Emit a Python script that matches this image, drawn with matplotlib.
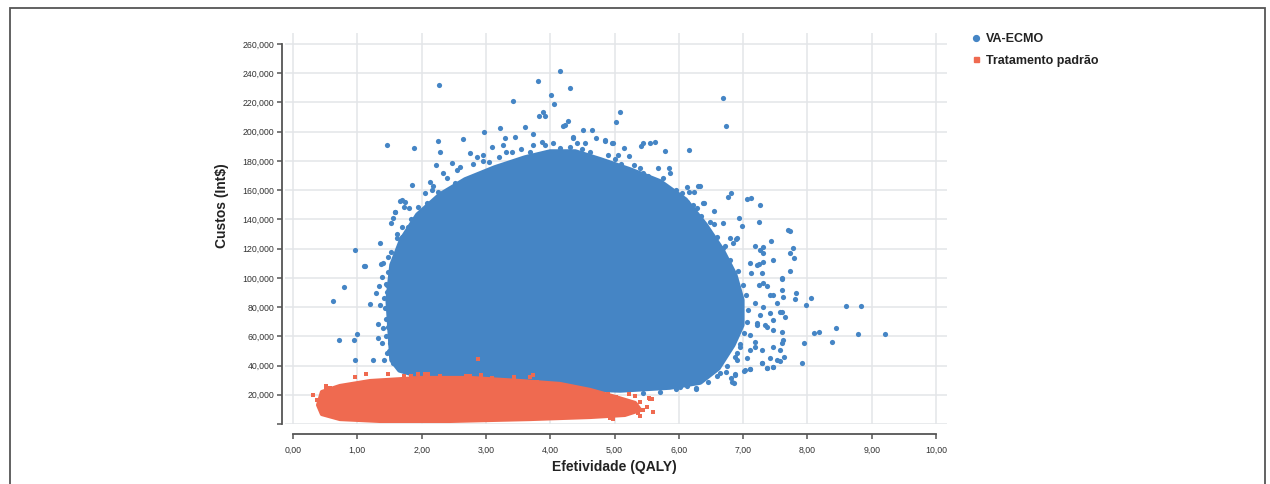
import matplotlib
matplotlib.use("Agg")
import matplotlib.pyplot as plt
from matplotlib import font_manager
from matplotlib.lines import Line2D
from matplotlib.patches import Rectangle

# ---------------- data ----------------
x_ticks = [0, 1, 2, 3, 4, 5, 6, 7, 8, 9, 10]
x_tick_labels = ["0,00", "1,00", "2,00", "3,00", "4,00", "5,00",
                 "6,00", "7,00", "8,00", "9,00", "10,00"]
y_ticks = [0, 20000, 40000, 60000, 80000, 100000, 120000, 140000,
           160000, 180000, 200000, 220000, 240000, 260000]
y_tick_labels = ["", "20,000", "40,000", "60,000", "80,000", "100,000",
                 "120,000", "140,000", "160,000", "180,000", "200,000",
                 "220,000", "240,000", "260,000"]

series_names = ["VA-ECMO", "Tratamento padrão"]

# outline of the dense (fully overlapping) VA-ECMO cloud: QALY, cost (thousand Int$)
ecmo_core_x = [1.54, 1.48, 1.54, 1.69, 1.94, 2.29, 2.68, 3.14, 3.61, 4.00, 4.39,
               4.78, 5.24, 5.71, 6.10, 6.41, 6.67, 6.87, 6.98, 6.98, 6.84, 6.61,
               6.33, 5.86, 5.09, 4.15, 2.91, 1.98, 1.66]
ecmo_core_y = [43.8, 84.9, 108.8, 125.9, 143.0, 156.7, 167.0, 175.2, 182.0, 186.1, 186.1,
               180.7, 173.8, 165.6, 153.3, 136.2, 119.1, 102.0, 84.9, 67.7, 54.1, 38.3,
               28.7, 25.3, 23.3, 24.6, 30.1, 32.8, 37.0]

# individual VA-ECMO simulations outside the dense cloud (QALY, thousand Int$)
ecmo_pts_x = [2.27, 3.81, 4.15, 4.31, 4.02, 4.06, 3.42, 3.83, 3.89, 3.92, 4.28, 4.23,
              4.20, 3.61, 3.22, 2.97, 2.26, 1.46, 1.88, 2.29, 4.51, 4.65, 4.35, 2.64,
              1.85, 1.66, 1.74, 1.58, 1.56, 1.53, 1.35, 0.96, 1.61, 1.69, 1.79,
              6.69, 6.74, 5.09, 5.02, 6.16, 5.79, 5.63, 5.55, 5.44, 5.41, 5.14, 5.23,
              5.06, 4.85, 4.97, 5.68, 5.84, 5.87, 6.13, 6.30, 6.33, 6.16, 6.24, 6.77,
              6.81, 7.06, 7.12, 7.27, 6.54, 6.39, 6.93, 6.98, 7.24, 6.69, 6.55, 7.73,
              7.44, 7.77, 6.89, 6.80,
              9.21, 8.83, 8.60, 8.78, 8.44, 8.38, 8.18, 8.10, 8.06, 7.98, 7.82, 7.81,
              7.94, 7.91, 7.73, 7.79, 7.60, 7.60, 7.60, 7.60, 7.60, 7.64, 7.57, 7.47,
              7.37, 7.29, 7.02, 7.11, 6.87, 6.81, 6.86, 6.26, 7.26, 7.21, 7.34, 7.47,
              7.24, 7.37, 7.47, 7.13, 7.24, 7.31, 7.47, 7.29, 7.19, 7.06, 6.90, 7.73,
              0.62, 0.79, 0.72, 0.95, 0.99, 0.97, 1.24, 1.42, 1.10, 1.19, 1.29, 1.32,
              1.40, 1.32, 1.38, 1.37, 1.47, 1.33, 1.46, 1.46, 1.35, 1.43, 1.53, 1.39,
              1.51, 1.46, 1.53, 1.56, 1.66, 1.56, 1.51, 1.48,
              3.30, 3.46, 3.74, 2.75, 2.86, 2.96, 3.09, 3.27, 3.32, 2.23, 2.47, 2.34,
              2.55, 2.13, 2.16, 2.26, 2.08, 1.69, 1.72, 1.59, 1.95, 1.98, 1.87, 1.12,
              1.40, 1.77, 1.87, 4.05, 4.15, 4.31, 4.36, 3.74, 3.87, 3.92,
              4.42, 4.54, 4.72, 4.85, 4.96, 5.45, 5.55, 5.63, 5.89, 5.97, 6.12, 6.28,
              6.38, 7.19, 7.26, 7.31, 7.70, 6.85, 6.90, 6.69, 6.59, 7.11, 7.21, 7.31,
              7.47, 7.60, 7.62, 7.52, 7.57, 7.65, 7.29, 7.31, 7.42, 7.19, 7.31, 7.42,
              7.47, 7.37, 7.21, 7.62, 7.57, 7.52, 7.42, 7.29, 7.37, 7.47, 7.11, 7.03,
              7.11, 6.88, 6.82, 6.74, 6.64, 6.27, 6.02, 7.11, 7.19, 6.90, 6.95,
              2.05, 2.18, 2.40, 2.52, 2.60, 2.80, 2.95, 3.05, 3.20, 3.40, 3.55, 3.68,
              1.80, 1.83, 1.70, 1.62, 1.52, 1.47, 1.44, 1.42, 1.45, 1.44, 1.50, 1.58,
              4.50, 4.62, 4.90, 5.00, 5.10, 5.30, 5.40, 5.52, 5.75, 5.95, 6.05, 6.22,
              6.35, 6.48, 6.60, 6.72, 6.80, 6.92, 7.00, 7.05, 7.08, 7.06, 7.02, 6.95,
              6.88, 6.75, 6.60, 6.45, 6.12, 5.95, 5.70, 5.45]
ecmo_pts_y = [232, 235, 241.6, 230, 225, 219, 221, 211, 213.5, 211, 207.5, 204.6,
              204, 203, 202.8, 199.8, 193.5, 191, 189, 186, 201, 201, 196, 195,
              163.5, 152.8, 152, 145, 141, 137.7, 124, 119, 127, 128, 135,
              222.9, 204, 213.3, 206.9, 187.5, 187, 193, 192, 192.5, 190, 189, 183.4,
              184, 193.9, 192.5, 175, 175, 172, 162, 163, 163, 158.5, 159, 155.5,
              157.9, 154, 154.9, 149.9, 145.8, 151, 140.8, 135.7, 138.4, 137.7, 136.9, 132.3,
              125.2, 120.6, 126.6, 127,
              61.4, 81, 81, 61.8, 65.9, 56.1, 62.7, 62.3, 86, 81.4, 89.4, 85.3,
              55.6, 41.5, 104.9, 113.4, 99.4, 91.7, 76.8, 62.7, 55.6, 46, 43.1, 38.8,
              38.1, 41.5, 36.5, 37.4, 34.2, 31.7, 27.9, 24, 74.6, 67.7, 67.7, 64.3,
              95, 94.4, 88.3, 103, 109.5, 116.8, 52.9, 50.6, 52.9, 45, 43.8, 116.8,
              84.4, 94, 57.5, 57.5, 61.4, 43.8, 43.8, 43.8, 108.3, 82.1, 89.4, 68.4,
              65.5, 58.6, 100.4, 109.3, 114.5, 94.4, 95.1, 90.5, 81.4, 79.2, 78, 55.2,
              55.2, 48.4, 47.2, 41.5, 40.4, 62, 71.2, 66.6,
              195.5, 196.2, 198.2, 185.2, 182.9, 184, 189.8, 190.9, 186.3, 177.2, 178.4, 171.6,
              173.8, 165.8, 160.1, 159, 151, 153.3, 148.7, 145.3, 148.7, 141.9, 136.2, 108.3,
              110, 121.3, 117.9, 192, 188.7, 189.8, 196.6, 190.9, 193.2, 190.9,
              192, 192, 195.5, 194.3, 192, 172, 165.8, 163.6, 154.5, 153.3, 152.1, 147.6,
              151, 121.8, 119.1, 121.3, 132.8, 123.7, 127.1, 120.2, 122.5, 110, 108.8, 111.1,
              112.2, 99.7, 87.1, 82.6, 76.8, 73.4, 103.1, 96.3, 88.3, 82.6, 80.3, 75.8,
              71.2, 66.6, 68.9, 57.5, 50.6, 43.8, 45, 41.5, 38.1, 39.2, 50.6, 37,
              37.4, 33.5, 28.9, 35.8, 34.7, 24.4, 25.5, 60.9, 56.3, 48.4, 52.9,
              158, 163, 168, 165, 176, 178, 180, 179, 183, 186, 188, 186,
              148, 140, 135, 130, 118, 104, 96, 86, 72, 60, 50, 46,
              188, 186, 184, 181, 178, 177, 175, 170, 168, 160, 158, 150,
              142, 138, 128, 122, 112, 105, 95, 88, 78, 70, 62, 55,
              46, 40, 33, 29, 26, 24, 22, 21]

# outline of the dense standard-treatment cloud (QALY, thousand Int$)
std_core_x = [0.39, 0.45, 0.73, 1.20, 1.98, 2.75, 3.53, 4.15, 4.62, 5.01, 5.32,
              5.40, 5.16, 4.62, 3.69, 2.44, 1.35, 0.73, 0.45]
std_core_y = [13.0, 21.9, 26.0, 29.4, 31.5, 31.5, 29.4, 27.4, 23.3, 18.5, 14.4,
              9.6, 6.2, 4.8, 3.4, 2.1, 2.1, 3.4, 6.8]

# individual standard-treatment simulations outside the dense cloud
std_pts_x = [0.31, 0.38, 0.51, 0.58, 0.51, 0.70, 0.86, 0.96, 1.13, 1.48, 1.72, 1.84,
             1.95, 2.10, 2.87, 2.76, 2.92, 3.09, 3.43, 3.56, 3.69, 3.74, 3.79, 4.13,
             4.26, 4.36, 4.57, 4.72, 2.05, 2.29, 2.55, 2.69, 4.75, 4.90, 5.03, 5.22,
             5.32, 5.40, 5.53, 5.58, 5.60, 5.37, 5.50, 5.24, 5.14, 4.93, 4.98, 5.55,
             5.45, 5.40, 4.98]
std_pts_y = [19.6, 16.4, 26.2, 24.4, 23.3, 24.4, 25.5, 32.4, 34.2, 34.2, 32.8, 32.8,
             34.2, 34.2, 44.5, 32.8, 33.5, 31.3, 32.4, 27.8, 32, 33.5, 28.9, 26,
             25.1, 25.5, 23.3, 18.7, 34.2, 32.8, 31.3, 32.8, 19.8, 20.5, 18.7, 20.3,
             19.2, 15.3, 17.6, 16.9, 8.4, 7.3, 11.4, 11.8, 9.6, 3.9, 7.3, 17.1,
             9.6, 5.7, 3.2]

# ---------------- styling ----------------
BLUE = "#4585C5"
RED = "#EF6A50"
GRID = "#E3E5E8"
AXC = "#555555"

avail = {f.name for f in font_manager.fontManager.ttflist}
narrow = "Liberation Sans Narrow" if "Liberation Sans Narrow" in avail else "Liberation Sans"
plt.rcParams["font.family"] = [narrow, "DejaVu Sans"]

W, H = 1270, 484
fig = plt.figure(figsize=(W / 100, H / 100), dpi=100)
fig.patch.set_facecolor("white")

# axes box in pixels: left 285, right 947, y=0 at 424, top 33
x0px, x1px, ytop, ybot = 285, 947, 33, 424
ax = fig.add_axes([x0px / W, (H - ybot) / H, (x1px - x0px) / W, (ybot - ytop) / H])
px_per_x = 64.3
px_per_20k = 29.23
ax.set_xlim((x0px - 293) / px_per_x, (x1px - 293) / px_per_x)
ax.set_ylim(0, (ybot - ytop) / px_per_20k * 20000)

k = 1000.0
ax.fill(ecmo_core_x, [v * k for v in ecmo_core_y], color=BLUE,
        lw=4, ec=BLUE, joinstyle="round", zorder=2)
ax.scatter(ecmo_pts_x, [v * k for v in ecmo_pts_y], s=14, marker="o", color=BLUE,
           lw=0, zorder=3)
ax.fill(std_core_x, [v * k for v in std_core_y], color=RED, lw=3, ec=RED,
        joinstyle="round", zorder=4)
ax.scatter(std_pts_x, [v * k for v in std_pts_y], s=11, marker="s", color=RED,
           lw=0, zorder=5)

ax.set_xticks(x_ticks)
ax.set_xticklabels(x_tick_labels)
ax.set_yticks(y_ticks)
ax.set_yticklabels(y_tick_labels)
ax.grid(True, color=GRID, lw=1.1, zorder=0)
ax.set_axisbelow(True)

for s in ("top", "right"):
    ax.spines[s].set_visible(False)
ax.spines["left"].set_position(("outward", 2.2))
ax.spines["left"].set_bounds(0, 260000)
ax.spines["bottom"].set_position(("outward", 7.2))
ax.spines["bottom"].set_bounds(0, 10)
for s in ("left", "bottom"):
    ax.spines[s].set_color(AXC)
    ax.spines[s].set_linewidth(1.3)
ax.tick_params(axis="both", colors=AXC, labelcolor="#333333", labelsize=6.3,
               length=3.6, width=1.1)
ax.tick_params(axis="y", pad=2)
ax.tick_params(axis="x", pad=5)

fig.text((293 + 936) / 2 / W, 1 - 467 / H, "Efetividade (QALY)", ha="center",
         va="center", fontsize=10, fontweight="bold", color="#222222")
fig.text(222 / W, 1 - 206 / H, "Custos (Int$)", ha="center", va="center",
         rotation=90, fontsize=10, fontweight="bold", color="#222222")

handles = [Line2D([], [], marker="o", ls="", color=BLUE, markersize=4.2),
           Line2D([], [], marker="s", ls="", color=RED, markersize=3.6)]
fig.legend(handles, series_names, loc="upper left",
           bbox_to_anchor=(960 / W, 1 - 22 / H), frameon=False,
           prop={"weight": "bold", "size": 9.0}, handlelength=0.8,
           handletextpad=0.4, labelspacing=0.75, labelcolor="#222222")

# outer frame of the figure panel
fig.add_artist(Rectangle((9.5 / W, -0.1), (1264.5 - 9.5) / W, 1.1 - 8.5 / H,
                         transform=fig.transFigure, fill=False, ec="#555555",
                         lw=1.3, zorder=10))

fig.savefig("out.png", dpi=100, facecolor="white")
